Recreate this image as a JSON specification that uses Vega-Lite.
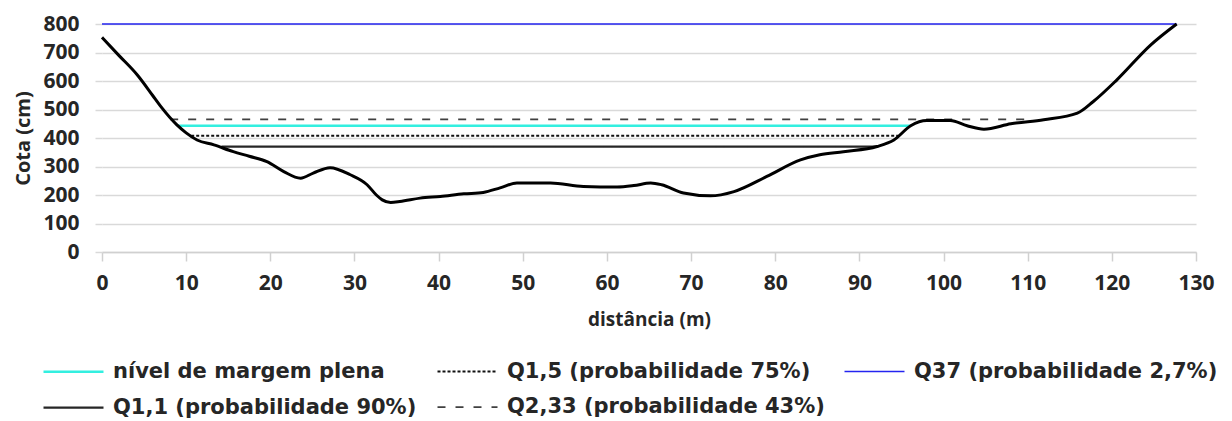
{
  "$schema": "https://vega.github.io/schema/vega-lite/v6.json",
  "width": 1094,
  "height": 228,
  "autosize": {"type": "none"},
  "padding": {"left": 102, "top": 24, "right": 36, "bottom": 169},
  "background": "white",
  "config": {
    "view": {"stroke": null},
    "axisY": {"labelOverlap": false},
    "axisX": {"labelOverlap": false},
    "legend": {
      "orient": "none",
      "legendX": -59,
      "legendY": 336,
      "columns": 3,
      "columnPadding": 16,
      "rowPadding": 14,
      "symbolType": "M-3,0H3",
      "symbolSize": 400,
      "symbolOffset": 19,
      "labelOffset": 28,
      "labelLimit": 500,
      "labelFont": "DejaVu Sans",
      "labelFontSize": 21,
      "labelFontWeight": "bold",
      "labelColor": "#262626",
      "padding": 0,
      "title": null
    }
  },
  "encoding": {
    "x": {
      "field": "d",
      "type": "quantitative",
      "scale": {"domain": [0, 130], "nice": false},
      "axis": {
        "values": [0, 10, 20, 30, 40, 50, 60, 70, 80, 90, 100, 110, 120, 130],
        "title": "distância (m)",
        "grid": false,
        "domainColor": "#d0d0d0",
        "domainWidth": 1.5,
        "tickColor": "#d0d0d0",
        "tickWidth": 1.5,
        "tickSize": 9,
        "labelFont": "Open Sans",
        "labelFontSize": 21,
        "labelFontWeight": "bold",
        "labelColor": "#262626",
        "labelPadding": 11,
        "labelFlush": false,
        "labelOverlap": false,
        "titleFont": "Open Sans",
        "titleFontSize": 19,
        "titleFontWeight": "bold",
        "titleColor": "#262626",
        "titlePadding": 17
      }
    },
    "y": {
      "field": "v",
      "type": "quantitative",
      "scale": {"domain": [0, 800], "nice": false},
      "axis": {
        "values": [0, 100, 200, 300, 400, 500, 600, 700, 800],
        "title": "Cota (cm)",
        "grid": true,
        "gridColor": "#d9d9d9",
        "gridWidth": 1.5,
        "domain": false,
        "tickColor": "#d9d9d9",
        "tickWidth": 1.5,
        "tickSize": 7,
        "labelFont": "Open Sans",
        "labelFontSize": 21,
        "labelFontWeight": "bold",
        "labelColor": "#262626",
        "labelPadding": 16,
        "labelOverlap": false,
        "labelSeparation": 0,
        "titleFont": "Open Sans",
        "titleFontSize": 20,
        "titleFontWeight": "bold",
        "titleColor": "#262626",
        "titlePadding": 9
      }
    }
  },
  "layer": [
    {
      "data": {
        "values": [
          {"serie": "Q37 (probabilidade 2,7%)", "d": 0, "v": 800},
          {"serie": "Q37 (probabilidade 2,7%)", "d": 127.7, "v": 800},
          {"serie": "Q2,33 (probabilidade 43%)", "d": 8.1, "v": 465},
          {"serie": "Q2,33 (probabilidade 43%)", "d": 110.1, "v": 465},
          {"serie": "nível de margem plena", "d": 9.0, "v": 443},
          {"serie": "nível de margem plena", "d": 96.1, "v": 443},
          {"serie": "Q1,5 (probabilidade 75%)", "d": 10.6, "v": 408},
          {"serie": "Q1,5 (probabilidade 75%)", "d": 94.6, "v": 408},
          {"serie": "Q1,1 (probabilidade 90%)", "d": 14.2, "v": 370},
          {"serie": "Q1,1 (probabilidade 90%)", "d": 92.1, "v": 370}
        ]
      },
      "mark": {"type": "line", "strokeCap": "butt"},
      "encoding": {
        "color": {
          "field": "serie",
          "type": "nominal",
          "scale": {
            "domain": ["nível de margem plena", "Q1,1 (probabilidade 90%)", "Q1,5 (probabilidade 75%)", "Q2,33 (probabilidade 43%)", "Q37 (probabilidade 2,7%)"],
            "range": ["#33efe0", "#262626", "#111111", "#404040", "#2424f0"]
          },
          "legend": {"title": null}
        },
        "strokeDash": {
          "field": "serie",
          "type": "nominal",
          "scale": {
            "domain": ["nível de margem plena", "Q1,1 (probabilidade 90%)", "Q1,5 (probabilidade 75%)", "Q2,33 (probabilidade 43%)", "Q37 (probabilidade 2,7%)"],
            "range": [[1, 0], [1, 0], [3, 2], [8, 10], [1, 0]]
          },
          "legend": {"title": null}
        },
        "strokeWidth": {
          "field": "serie",
          "type": "nominal",
          "scale": {
            "domain": ["nível de margem plena", "Q1,1 (probabilidade 90%)", "Q1,5 (probabilidade 75%)", "Q2,33 (probabilidade 43%)", "Q37 (probabilidade 2,7%)"],
            "range": [2.5, 1.5, 1.5, 1.5, 2]
          },
          "legend": {"title": null}
        }
      }
    },
    {
      "data": {
        "values": [
          {"d": 0, "v": 753}, {"d": 2, "v": 690}, {"d": 4.2, "v": 621}, {"d": 6, "v": 550},
          {"d": 7, "v": 510}, {"d": 8.9, "v": 446}, {"d": 10, "v": 418}, {"d": 11.3, "v": 393},
          {"d": 13.3, "v": 376}, {"d": 15.6, "v": 352}, {"d": 17.5, "v": 336}, {"d": 19.6, "v": 317},
          {"d": 21.6, "v": 282}, {"d": 23.6, "v": 259}, {"d": 25.1, "v": 277}, {"d": 27.1, "v": 296},
          {"d": 29.5, "v": 271}, {"d": 31.5, "v": 236}, {"d": 32.6, "v": 200}, {"d": 33.3, "v": 183},
          {"d": 34.3, "v": 174}, {"d": 35.4, "v": 177}, {"d": 37.8, "v": 189}, {"d": 40.2, "v": 195},
          {"d": 43, "v": 204}, {"d": 45.3, "v": 209}, {"d": 47.3, "v": 225}, {"d": 49.3, "v": 242},
          {"d": 53.3, "v": 242}, {"d": 57.2, "v": 230}, {"d": 61.2, "v": 228}, {"d": 63.2, "v": 233},
          {"d": 65.2, "v": 242}, {"d": 66.5, "v": 236}, {"d": 69.1, "v": 207}, {"d": 72.3, "v": 197},
          {"d": 75.1, "v": 212}, {"d": 79, "v": 265}, {"d": 83, "v": 323}, {"d": 85.3, "v": 341},
          {"d": 88.1, "v": 352}, {"d": 92.1, "v": 370}, {"d": 94.1, "v": 393}, {"d": 96.1, "v": 443},
          {"d": 98, "v": 461}, {"d": 100.8, "v": 461}, {"d": 102.8, "v": 443}, {"d": 104.8, "v": 431},
          {"d": 108, "v": 450}, {"d": 111.9, "v": 464}, {"d": 115.9, "v": 487}, {"d": 117.8, "v": 528},
          {"d": 120.6, "v": 604}, {"d": 124.6, "v": 726}, {"d": 127.7, "v": 800}
        ]
      },
      "mark": {"type": "line", "interpolate": "monotone", "color": "#000000", "strokeWidth": 3}
    }
  ]
}
